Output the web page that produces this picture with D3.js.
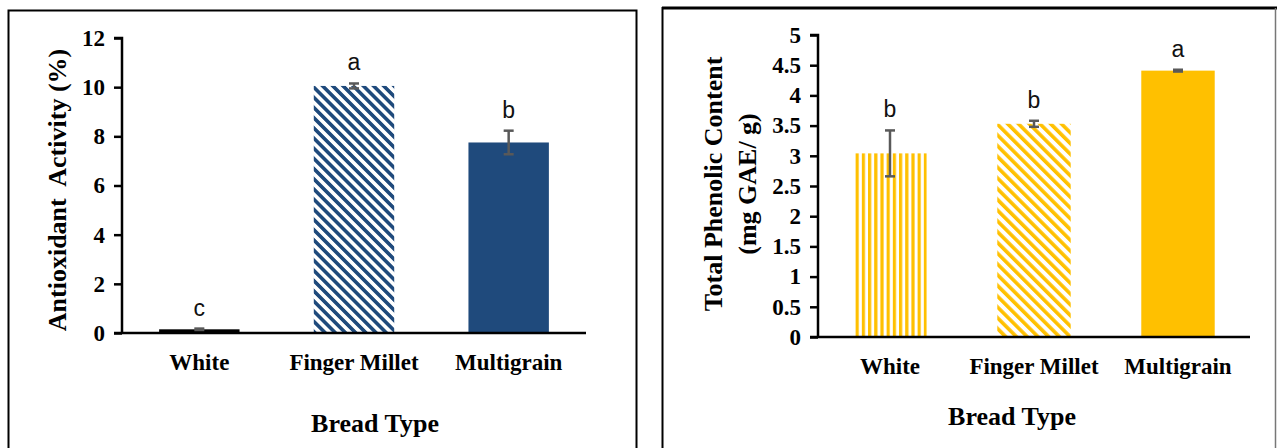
<!DOCTYPE html>
<html lang="en">
<head>
<meta charset="UTF-8">
<title>Bread Type charts</title>
<script src="https://d3js.org/d3.v7.min.js"></script>
<style>
  body { margin: 0; background: #fff; }
  svg { display: block; }
</style>
</head>
<body>
<div id="chart"></div>
<script>
  // data
  const categories = ['White', 'Finger Millet', 'Multigrain'];

  const antioxidant = [0.15, 10.05, 7.75];
  const antioxidantErr = [0.03, 0.1, 0.48];
  const antioxidantLetters = ['c', 'a', 'b'];
  const antioxidantTicks = [0, 2, 4, 6, 8, 10, 12];

  const phenolic = [3.04, 3.53, 4.41];
  const phenolicErr = [0.38, 0.05, 0.015];
  const phenolicLetters = ['b', 'b', 'a'];
  const phenolicTicks = [0, 0.5, 1, 1.5, 2, 2.5, 3, 3.5, 4, 4.5, 5];

  const navy = '#1f4a7c';
  const gold = '#ffc000';
  const errColor = '#595959';
  const serif = '"Liberation Serif", "Times New Roman", serif';
  const sans = '"Liberation Sans", Arial, sans-serif';

  const svg = d3.select('#chart').append('svg')
    .attr('width', 1277)
    .attr('height', 448);

  const defs = svg.append('defs');

  function stripes(id, color, period, width, angle) {
    const p = defs.append('pattern')
      .attr('id', id)
      .attr('patternUnits', 'userSpaceOnUse')
      .attr('width', period)
      .attr('height', period)
      .attr('patternTransform', 'rotate(' + angle + ')');
    p.append('rect')
      .attr('x', 0).attr('y', 0)
      .attr('width', width).attr('height', period)
      .attr('fill', color);
  }
  stripes('navyDiag', navy, 7.2, 3.6, -45);
  stripes('goldDiag', gold, 7.6, 3.6, -45);
  stripes('goldVert', gold, 6.2, 3.2, 0);

  // panel frames
  svg.append('rect')
    .attr('x', 8.5).attr('y', 10.5)
    .attr('width', 628).attr('height', 460)
    .attr('fill', 'none').attr('stroke', '#000').attr('stroke-width', 2);
  svg.append('line').attr('x1', 662).attr('x2', 1277).attr('y1', 8).attr('y2', 8)
    .attr('stroke', '#000').attr('stroke-width', 3);
  svg.append('line').attr('x1', 662.5).attr('x2', 662.5).attr('y1', 7).attr('y2', 448)
    .attr('stroke', '#000').attr('stroke-width', 2);
  svg.append('line').attr('x1', 1275.5).attr('x2', 1275.5).attr('y1', 8).attr('y2', 448)
    .attr('stroke', '#777').attr('stroke-width', 1.5);

  function drawChart(opt) {
    const x = d3.scaleBand()
      .domain(categories)
      .range([opt.x0, opt.x1])
      .paddingInner(opt.pad)
      .paddingOuter(opt.pad / 2);

    const y = d3.scaleLinear()
      .domain([0, opt.max])
      .range([opt.y0, opt.y1]);

    const g = svg.append('g');

    // bars
    g.selectAll('rect.bar')
      .data(opt.values)
      .enter().append('rect')
      .attr('class', 'bar')
      .attr('x', (d, i) => x(categories[i]))
      .attr('width', x.bandwidth())
      .attr('y', d => y(d))
      .attr('height', d => y(0) - y(d))
      .attr('fill', (d, i) => opt.fills[i]);

    // error bars
    const eb = g.selectAll('g.err')
      .data(opt.values)
      .enter().append('g')
      .attr('class', 'err')
      .attr('stroke', errColor)
      .attr('stroke-width', 2.5);
    const cx = i => x(categories[i]) + x.bandwidth() / 2;
    eb.append('line')
      .attr('x1', (d, i) => cx(i)).attr('x2', (d, i) => cx(i))
      .attr('y1', (d, i) => y(d + opt.errs[i])).attr('y2', (d, i) => y(d - opt.errs[i]));
    eb.append('line')
      .attr('x1', (d, i) => cx(i) - 5).attr('x2', (d, i) => cx(i) + 5)
      .attr('y1', (d, i) => y(d + opt.errs[i])).attr('y2', (d, i) => y(d + opt.errs[i]));
    eb.append('line')
      .attr('x1', (d, i) => cx(i) - 5).attr('x2', (d, i) => cx(i) + 5)
      .attr('y1', (d, i) => y(d - opt.errs[i])).attr('y2', (d, i) => y(d - opt.errs[i]));

    // significance letters
    g.selectAll('text.letter')
      .data(opt.letters)
      .enter().append('text')
      .attr('class', 'letter')
      .attr('x', (d, i) => cx(i))
      .attr('y', (d, i) => y(opt.values[i] + opt.errs[i]) - opt.letterGap)
      .attr('text-anchor', 'middle')
      .attr('font-family', sans)
      .attr('font-size', 23)
      .attr('fill', '#111')
      .text(d => d);

    // y axis
    const yAxis = g.append('g')
      .attr('transform', 'translate(' + opt.x0 + ',0)')
      .call(d3.axisLeft(y).tickValues(opt.ticks).tickSize(8).tickPadding(9).tickFormat(d3.format('')));
    yAxis.select('.domain').attr('stroke', '#000').attr('stroke-width', 2.5)
      .attr('d', 'M-8,' + opt.y1 + 'H0V' + opt.y0);
    yAxis.selectAll('.tick line').attr('stroke', '#000').attr('stroke-width', 2.5);
    yAxis.selectAll('.tick text')
      .attr('font-family', serif).attr('font-weight', 'bold')
      .attr('font-size', 23).attr('fill', '#000');

    // x axis
    const xAxis = g.append('g')
      .attr('transform', 'translate(0,' + opt.y0 + ')')
      .call(d3.axisBottom(x).tickSize(0).tickPadding(opt.xPad));
    xAxis.select('.domain').attr('stroke', '#000').attr('stroke-width', 2.5)
      .attr('d', 'M' + (opt.x0 - 8) + ',0H' + opt.x1);
    xAxis.selectAll('.tick text')
      .attr('font-family', serif).attr('font-weight', 'bold')
      .attr('font-size', 23).attr('fill', '#000');

    // axis titles
    g.append('text')
      .attr('x', (opt.x0 + opt.x1) / 2 - opt.titleShift)
      .attr('y', opt.xTitleY)
      .attr('text-anchor', 'middle')
      .attr('font-family', serif).attr('font-weight', 'bold')
      .attr('font-size', 26)
      .text('Bread Type');

    opt.yTitle.forEach((line, k) => {
      g.append('text')
        .attr('transform', 'translate(' + opt.yTitleX[k] + ',' + opt.yTitleY + ') rotate(-90)')
        .attr('text-anchor', 'middle')
        .attr('font-family', serif).attr('font-weight', 'bold')
        .attr('font-size', 26)
        .attr('xml:space', 'preserve')
        .text(line);
    });
  }

  drawChart({
    values: antioxidant, errs: antioxidantErr, letters: antioxidantLetters,
    ticks: antioxidantTicks, max: 12,
    fills: ['#000', 'url(#navyDiag)', navy],
    x0: 122, x1: 586, y0: 333, y1: 38, pad: 0.48,
    letterGap: 13, xPad: 21, xTitleY: 432, titleShift: -21,
    yTitle: ['Antioxidant  Activity (%)'], yTitleX: [66], yTitleY: 190
  });

  drawChart({
    values: phenolic, errs: phenolicErr, letters: phenolicLetters,
    ticks: phenolicTicks, max: 5,
    fills: ['url(#goldVert)', 'url(#goldDiag)', gold],
    x0: 818, x1: 1250, y0: 337, y1: 35, pad: 0.49,
    letterGap: 13, xPad: 21, xTitleY: 425, titleShift: 22,
    yTitle: ['Total Phenolic Content', '(mg GAE/ g)'], yTitleX: [722, 756], yTitleY: 184
  });
</script>
</body>
</html>
